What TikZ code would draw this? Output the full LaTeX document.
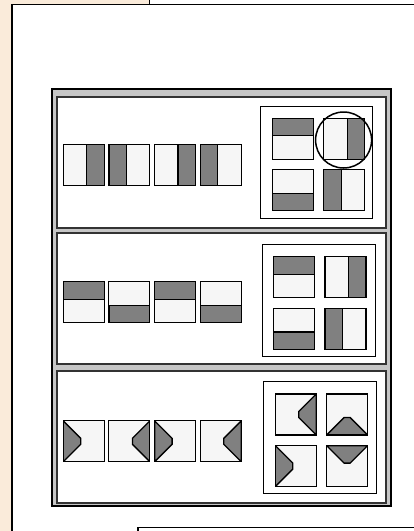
\documentclass[tikz,border=0pt]{standalone}
\usepackage{xcolor}
\usepackage{tikz}
\usetikzlibrary{positioning, calc}
\definecolor{bg}{RGB}{250,235,218}
\definecolor{dk}{RGB}{128,128,128}
\definecolor{lt}{RGB}{246,246,246}
\definecolor{frm}{RGB}{198,198,198}
\tikzset{
  tile/.style ={rectangle, draw, fill=lt, inner sep=0pt, minimum width=41pt, minimum height=41pt, line width=1.1pt},
  dkf/.style  ={draw, fill=dk, line width=1.3pt},
  barL/.style ={tile, path picture={\draw[dkf] (path picture bounding box.north west) rectangle ([xshift=17.5pt]path picture bounding box.south west);}},
  barR/.style ={tile, path picture={\draw[dkf] (path picture bounding box.north east) rectangle ([xshift=-17.5pt]path picture bounding box.south east);}},
  barT/.style ={tile, path picture={\draw[dkf] (path picture bounding box.north west) rectangle ([yshift=-17.5pt]path picture bounding box.north east);}},
  barB/.style ={tile, path picture={\draw[dkf] (path picture bounding box.south west) rectangle ([yshift=17.5pt]path picture bounding box.south east);}},
  flapL/.style={tile, path picture={\draw[dkf] (path picture bounding box.north west) -- ++(17.5,17.5) -- ++(0,6) -- (path picture bounding box.south west) -- cycle;}},
  flapR/.style={tile, path picture={\draw[dkf] (path picture bounding box.north east) -- ++(-17.5,17.5) -- ++(0,6) -- (path picture bounding box.south east) -- cycle;}},
  flapT/.style={tile, path picture={\draw[dkf] (path picture bounding box.north west) -- ++(17.5,17.5) -- ++(6,0) -- (path picture bounding box.north east) -- cycle;}},
  flapB/.style={tile, path picture={\draw[dkf] (path picture bounding box.south west) -- ++(17.5,-17.5) -- ++(6,0) -- (path picture bounding box.south east) -- cycle;}},
  pnl/.style  ={draw=black!80, fill=white, line width=1.1pt},
  gbox/.style ={draw, fill=white, line width=1pt},
  ring/.style ={circle, draw, line width=1.5pt, minimum size=56pt, inner sep=0pt},
}
\begin{document}
\begin{tikzpicture}[x=1pt, y=-1pt, node distance=9.5pt and 9.2pt]
  \useasboundingbox (0,0) rectangle (414,531);
  \clip (0,0) rectangle (414,531);
  \fill[bg] (-2,-2) rectangle (149,540);
  \draw[line width=1pt] (149,-2) -- (149,10);
  \draw[line width=1.3pt, fill=white] (12,4.5) rectangle (430,545);
  \draw[line width=1.3pt, fill=white] (138,527.5) rectangle (430,545);
  \draw[line width=1.1pt, fill=frm] (52,89) rectangle (391,506);
  \draw[pnl] (57,97) rectangle (386,228);
  \draw[pnl] (57,233) rectangle (386,364);
  \draw[pnl] (57,371) rectangle (386,503);
  % row 1
  \node[barR] (r1a) at (83.7,165) {};
  \node[barL, right=3.6pt of r1a] (r1b) {};
  \node[barR, right=3.6pt of r1b] (r1c) {};
  \node[barL, right=3.6pt of r1c] (r1d) {};
  \path[gbox] (260,106) rectangle (372.7,218.3);
  \node[barT] (g1a) at (293,138.7) {};
  \node[barR, right=of g1a] (g1b) {};
  \node[barB, below=of g1a] (g1c) {};
  \node[barL, below=of g1b] (g1d) {};
  \node[ring] (o1) at ([shift={(-0.7,1.3)}]g1b.center) {};
  % row 2
  \node[barT] (r2a) at (83.7,302.3) {};
  \node[barB, right=3.6pt of r2a] (r2b) {};
  \node[barT, right=3.6pt of r2b] (r2c) {};
  \node[barB, right=3.6pt of r2c] (r2d) {};
  \path[gbox] (262.3,244.3) rectangle (375,356.7);
  \node[barT] (g2a) at (294.2,277.3) {};
  \node[barR, right=of g2a] (g2b) {};
  \node[barB, below=of g2a] (g2c) {};
  \node[barL, below=of g2b] (g2d) {};
  % row 3
  \node[flapL] (r3a) at (83.7,441.3) {};
  \node[flapR, right=3.6pt of r3a] (r3b) {};
  \node[flapL, right=3.6pt of r3b] (r3c) {};
  \node[flapR, right=3.6pt of r3c] (r3d) {};
  \path[gbox] (263.3,381) rectangle (376,493.3);
  \node[flapR] (g3a) at (295.8,414.5) {};
  \node[flapB, right=of g3a] (g3b) {};
  \node[flapL, below=of g3a] (g3c) {};
  \node[flapT, below=of g3b] (g3d) {};
\end{tikzpicture}
\end{document}
